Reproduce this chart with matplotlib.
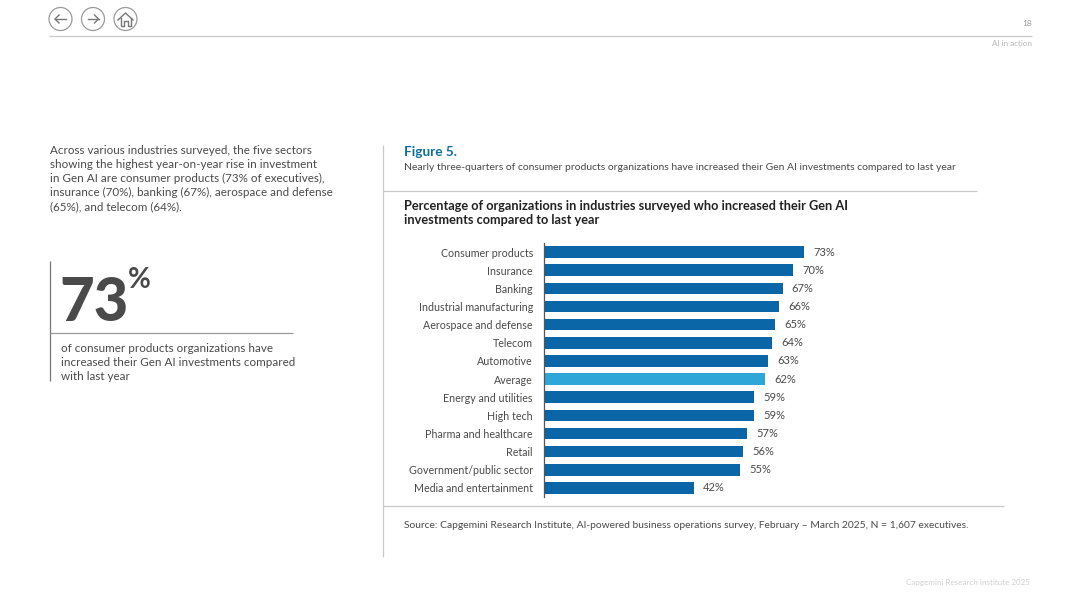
import matplotlib
matplotlib.use("Agg")
import matplotlib.pyplot as plt
from matplotlib.patches import Circle

categories = ["Consumer products", "Insurance", "Banking", "Industrial manufacturing",
              "Aerospace and defense", "Telecom", "Automotive", "Average",
              "Energy and utilities", "High tech", "Pharma and healthcare", "Retail",
              "Government/public sector", "Media and entertainment"]
values = [73, 70, 67, 66, 65, 64, 63, 62, 59, 59, 57, 56, 55, 42]
highlight = "Average"

left_text = ["Across various industries surveyed, the five sectors",
             "showing the highest year-on-year rise in investment",
             "in Gen AI are consumer products (73% of executives),",
             "insurance (70%), banking (67%), aerospace and defense",
             "(65%), and telecom (64%)."]
callout_text = ["of consumer products organizations have",
                "increased their Gen AI investments compared",
                "with last year"]

plt.rcParams["font.family"] = ["Lato", "DejaVu Sans"]
W, H = 1080, 607
fig = plt.figure(figsize=(W / 100, H / 100), dpi=100)

# page layer, in pixels
page = fig.add_axes([0, 0, 1, 1])
page.set_xlim(0, W)
page.set_ylim(H, 0)
page.axis("off")

def rule(x0, y0, x1, y1, color="#c8c8c8", lw=0.9):
    page.plot([x0, x1], [y0, y1], color=color, lw=lw, solid_capstyle="butt")

def put(x, y, s, size=8.33, color="#4a4a4a", **kw):
    page.text(x, y, s, fontsize=size, color=color, va=kw.pop("va", "center"), **kw)

# nav buttons
for cx in [60.5, 93, 125.5]:
    page.add_patch(Circle((cx, 19), 11.5, fill=False, ec="#9a9a9a", lw=0.9))
for x0, x1 in [(66, 55), (87.5, 98.5)]:
    d = 1 if x1 > x0 else -1
    page.plot([x0, x1], [19, 19], color="#777777", lw=1)
    page.plot([x1 - 4 * d, x1, x1 - 4 * d], [15, 19, 23], color="#777777", lw=1)
page.plot([118, 125.5, 133], [20, 13, 20], color="#777777", lw=1)
page.plot([120.5, 120.5, 123.5, 123.5, 127.5, 127.5, 130.5, 130.5],
          [18, 25.5, 25.5, 21, 21, 25.5, 25.5, 18], color="#777777", lw=1)

# header and footer
rule(49, 36, 1032, 36)
put(1032, 24, "18", size=6, color="#9a9a9a", ha="right")
put(1032, 43.5, "AI in action", size=5.8, color="#b5b5b5", ha="right")
put(1030, 583, "Capgemini Research Institute 2025", size=5.75, color="#d0d0d0", ha="right")

# left column
for i, line in enumerate(left_text):
    put(50.5, 150 + i * 14.2, line)

rule(50, 261, 50, 381, color="#777777")
rule(50, 333, 293, 333, color="#999999")
put(59, 303, "73", size=43, color="#4a4a4a", fontweight="black")
put(128, 280, "%", size=20, color="#4a4a4a", fontweight="bold")
for i, line in enumerate(callout_text):
    put(61, 349 + i * 14, line)

# figure panel
rule(383, 145, 383, 557)
rule(383, 190.5, 977, 190.5)
rule(383, 505.5, 1004, 505.5)
put(404, 151.5, "Figure 5.", size=9.8, color="#0f6f9c", fontweight="bold")
put(404, 167, "Nearly three-quarters of consumer products organizations have increased their Gen AI investments compared to last year", size=7.5)
put(404, 206, "Percentage of organizations in industries surveyed who increased their Gen AI", size=9.2, color="#222222", fontweight="bold")
put(404, 220.5, "investments compared to last year", size=9.2, color="#222222", fontweight="bold")
put(404, 525, "Source: Capgemini Research Institute, AI-powered business operations survey, February \u2013 March 2025, N = 1,607 executives.", size=7.35)

# chart
ax = fig.add_axes([544 / W, 1 - 497 / H, 356 / W, 254 / H])
ax.patch.set_alpha(0)
colors = ["#2ea6d8" if c == highlight else "#0a66a6" for c in categories]
pos = list(range(len(categories)))
ax.barh(pos, values, height=0.63, color=colors)
ax.set_xlim(0, 100)
ax.set_ylim(len(categories) - 0.5, -0.5)
ax.set_yticks(pos, categories)
ax.set_xticks([])
ax.tick_params(axis="y", length=0, pad=8, labelsize=7.7, labelcolor="#4a4a4a")
for s in ["top", "right", "bottom"]:
    ax.spines[s].set_visible(False)
ax.spines["left"].set_color("#555555")
ax.spines["left"].set_linewidth(0.9)
for p, v in zip(pos, values):
    ax.text(v + 2.6, p, f"{v}%", va="center", fontsize=8, color="#4a4a4a")

fig.savefig("out.png", dpi=100)
